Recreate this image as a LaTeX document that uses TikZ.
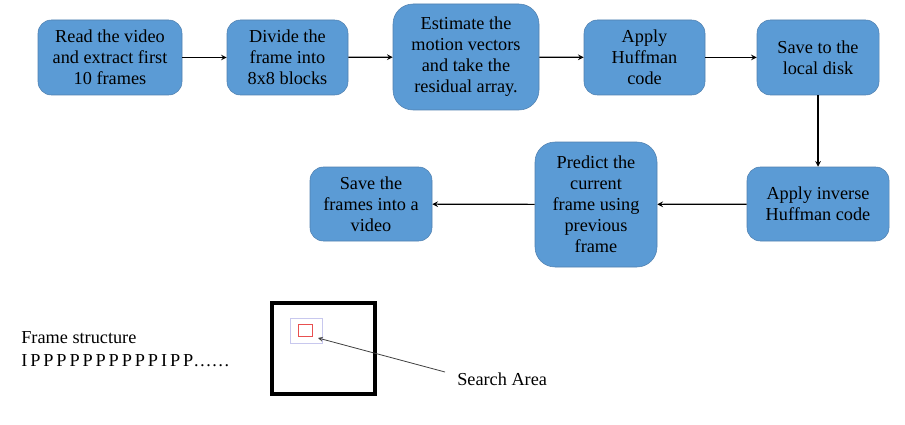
\documentclass[tikz,border=0pt]{standalone}
\usepackage{fontspec}
\setmainfont{Liberation Serif}
\usepackage{xcolor}
\usepackage{tikz}

\definecolor{boxblue}{RGB}{91,155,213}
\definecolor{boxedge}{RGB}{80,128,175}
\definecolor{winblue}{RGB}{200,200,238}
\definecolor{blockred}{RGB}{232,80,80}

\begin{document}
\begin{tikzpicture}[>=stealth, x=0.75pt, y=-0.75pt,
    box/.style={draw=boxedge, fill=boxblue, rounded corners=10pt, align=center, inner sep=0pt,
                font=\fontsize{13.7}{15.75}\selectfont},
    flow/.style={->, line width=0.9pt}]

    % Rahmen
    \useasboundingbox (0,0) rectangle (905,424);

    % Obere Reihe
    \node (read) at (110,57.5) [box, minimum width=108pt, minimum height=56.25pt] {Read the video\\and extract first\\10 frames};
    \node (divide) at (287.5,57.5) [box, minimum width=90.75pt, minimum height=56.25pt] {Divide the\\frame into\\8x8 blocks};
    \node (estimate) at (466,57) [box, rounded corners=15pt, minimum width=109.5pt, minimum height=79.5pt] {Estimate the\\motion vectors\\and take the\\residual array.};
    \node (huffman) at (644.5,57.5) [box, minimum width=90.75pt, minimum height=56.25pt] {Apply\\Huffman\\code};
    \node (save) at (818,57.5) [box, minimum width=91.5pt, minimum height=56.25pt] {Save to the\\local disk};

    % Untere Reihe
    \node (inverse) at (818,204) [box, minimum width=106.5pt, minimum height=55.5pt] {Apply inverse\\Huffman code};
    \node (predict) at (596,204.5) [box, rounded corners=15pt, minimum width=91.5pt, minimum height=93.75pt] {Predict the\\current\\frame using\\previous\\frame};
    \node (video) at (371,204) [box, minimum width=91.5pt, minimum height=55.5pt] {Save the\\frames into a\\video};

    % Pfeile
    \draw[flow] (read) -- (divide);
    \draw[flow] (divide) -- (estimate);
    \draw[flow] (estimate) -- (huffman);
    \draw[flow] (huffman) -- (save);
    \draw[flow] (save) -- (inverse);
    \draw[flow] (inverse) -- (predict);
    \draw[flow] (predict) -- (video);

    % Bildstruktur
    \node (structure) at (21,349.5) [anchor=west, align=left, inner sep=0pt, font=\fontsize{13.7}{17.25}\selectfont] {Frame structure\\{\spaceskip=0.16em I P P P P P P P P P P I P P……}};

    % Bild mit Suchbereich
    \node (frame) at (323.5,348.5) [draw, line width=3pt, minimum width=77pt, minimum height=68pt, inner sep=0pt] {};
    \node (searchwin) at (306,330.5) [draw=winblue, line width=0.6pt, minimum width=24pt, minimum height=18.75pt, inner sep=0pt] {};
    \node (block) at (305,330) [draw=blockred, line width=0.75pt, minimum width=10.5pt, minimum height=9pt, inner sep=0pt] {};
    \node (searchlbl) at (457,379) [anchor=west, inner sep=0pt, font=\fontsize{13.7}{15.75}\selectfont] {Search Area};
    \coordinate (tip) at (318,338);
    \coordinate (linestart) at (445,372);
    \draw[->, darkgray, line width=0.6pt] (linestart) -- (tip);

\end{tikzpicture}
\end{document}
